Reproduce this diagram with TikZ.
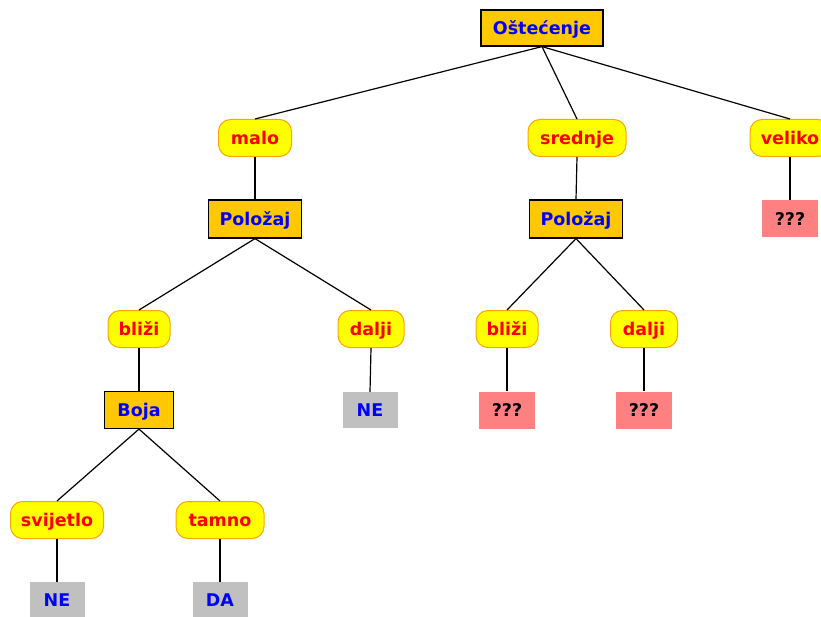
\documentclass[tikz,border=0pt]{standalone}
\usepackage{fontspec}
\setmainfont{DejaVu Sans}
\begin{document}
\definecolor{hdrfill}{HTML}{FFC800}
\definecolor{valfill}{HTML}{FFFF00}
\definecolor{valedge}{HTML}{FFA500}
\definecolor{nofill}{HTML}{C0C0C0}
\definecolor{unkfill}{HTML}{FF8080}
\tikzset{
  base/.style={inner sep=0pt, minimum height=37pt, text height=12.8pt, text depth=0pt,
    font=\fontsize{17.5}{21}\selectfont\bfseries},
  attr/.style={base, rectangle, draw=black, line width=1.2pt, fill=hdrfill, text=blue},
  val/.style={base, rectangle, rounded corners=12pt, draw=valedge, line width=1pt, fill=valfill, text=red},
  leafno/.style={base, rectangle, fill=nofill, text=blue, minimum width=55pt, minimum height=36pt},
  leafunk/.style={base, rectangle, fill=unkfill, text=black, minimum width=56pt, minimum height=37pt},
  link/.style={draw=black, line width=1.2pt}
}
\begin{tikzpicture}[x=1pt, y=-1pt]
  \useasboundingbox (0,0) rectangle (821,617);
  \clip (0,0) rectangle (821,617);

  % attribute nodes
  \node[attr, minimum width=122pt, minimum height=36pt] (dmg) at (542,28) {Oštećenje};
  \node[attr, minimum width=93pt, minimum height=38pt] (posL) at (255,219) {Položaj};
  \node[attr, minimum width=93pt, minimum height=38pt] (posR) at (576,219) {Položaj};
  \node[attr, minimum width=69pt] (col) at (139,410) {Boja};

  % attribute values
  \node[val, minimum width=73pt] (small) at (255,138) {malo};
  \node[val, minimum width=98pt] (mid) at (577,138) {srednje};
  \node[val, minimum width=80pt] (big) at (790,138) {veliko};
  \node[val, minimum width=62pt] (nearL) at (139,329) {bliži};
  \node[val, minimum width=66pt] (farL) at (371,329) {dalji};
  \node[val, minimum width=62pt] (nearR) at (507,329) {bliži};
  \node[val, minimum width=67pt] (farR) at (644,329) {dalji};
  \node[val, minimum width=93pt] (light) at (57,520) {svijetlo};
  \node[val, minimum width=88pt] (dark) at (220,520) {tamno};

  % leaves
  \node[leafunk] (uBig) at (790,219) {???};
  \node[leafno] (noFar) at (370,410) {NE};
  \node[leafunk] (uNear) at (507,410) {???};
  \node[leafunk] (uFar) at (644,410) {???};
  \node[leafno] (noLight) at (57,600) {NE};
  \node[leafno] (yesDark) at (220,600) {DA};

  % edges
  \draw[link] (dmg.south) -- (small.north);
  \draw[link] (dmg.south) -- (mid.north);
  \draw[link] (dmg.south) -- (big.north);
  \draw[link] (small.south) -- (posL.north);
  \draw[link] (mid.south) -- (posR.north);
  \draw[link] (big.south) -- (uBig.north);
  \draw[link] (posL.south) -- (nearL.north);
  \draw[link] (posL.south) -- (farL.north);
  \draw[link] (posR.south) -- (nearR.north);
  \draw[link] (posR.south) -- (farR.north);
  \draw[link] (nearL.south) -- (col.north);
  \draw[link] (farL.south) -- (noFar.north);
  \draw[link] (nearR.south) -- (uNear.north);
  \draw[link] (farR.south) -- (uFar.north);
  \draw[link] (col.south) -- (light.north);
  \draw[link] (col.south) -- (dark.north);
  \draw[link] (light.south) -- (noLight.north);
  \draw[link] (dark.south) -- (yesDark.north);
\end{tikzpicture}
\end{document}
